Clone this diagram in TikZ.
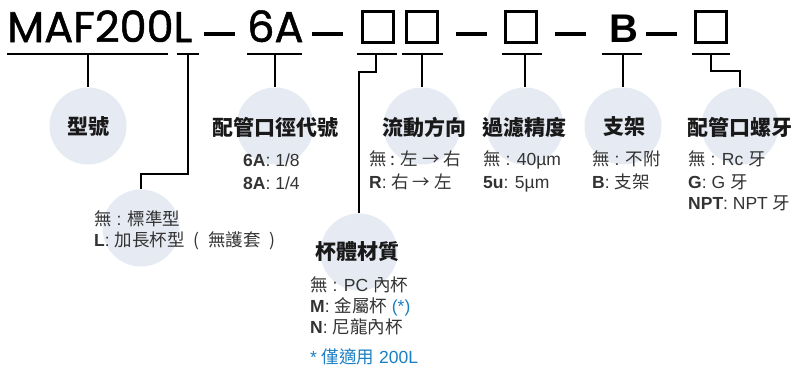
\documentclass[tikz,border=0pt]{standalone}
\usepackage{fontspec}
\setmainfont{Liberation Sans}
\newfontfamily\cjk{Noto Sans CJK TC}
\newfontfamily\titlefont{Poppins}[FakeBold=1.2]
\usetikzlibrary{positioning}

\definecolor{bubblefill}{HTML}{E6EAF2}
\definecolor{desctext}{HTML}{333333}
\definecolor{noteblue}{HTML}{1B7FC4}

\newcommand{\zh}[1]{{\cjk #1}}

\tikzset{
  bubble/.style={circle, fill=bubblefill, minimum size=77pt, inner sep=0pt},
  heading/.style={font=\cjk\bfseries\fontsize{21}{21}\selectfont, text=black!90, inner sep=0pt},
  desc/.style={font=\fontsize{17.5}{17.5}\selectfont, text=desctext, anchor=base west, inner sep=0pt},
  codebox/.style={draw, line width=3pt, minimum width=31pt, minimum height=31pt, inner sep=0pt},
  codetext/.style={font=\titlefont\fontsize{43}{43}\selectfont, anchor=base west, inner sep=0pt},
  sep/.style={line width=4pt},
  tap/.style={line width=1.2pt},
  link/.style={line width=1.2pt},
}

\begin{document}
\begin{tikzpicture}[x=1pt, y=-1pt]
    \useasboundingbox (0,0) rectangle (795,372);

    % 1. Dòng mã sản phẩm
    \node[codetext] (cMAF) at (7,42) {MAF200L};
    \node[codetext] (c6A) at (247,42) {6A};
    \node[codetext, font=\bfseries\fontsize{40}{40}\selectfont] (cB) at (609,42) {B};
    \node[codebox] (bxA) at (377.5,26.5) {};
    \node[codebox] (bxB) at (422,26.5) {};
    \node[codebox] (bxC) at (521,26.5) {};
    \node[codebox] (bxD) at (711,26.5) {};
    \foreach \a/\b in {204/235, 312/343, 456/487, 555/586, 646/677} {
        \draw[sep] (\a,34) -- (\b,34);
    }

    % 2. Vạch gạch dưới và điểm nối
    \foreach \a/\b/\t/\n in {7/168/88/MAF, 177/199/188/L, 247/302/275/6A, 357/397/376/bxA,
                             402/443/422/bxB, 502/542/525/bxC, 602/642/623/B, 692/730/711/bxD} {
        \draw[tap] (\a,54) -- (\b,54);
        \coordinate (u\n) at (\t,54);
    }

    % 3. Các vòng tròn và tiêu đề
    \node[bubble] (bubType) at (88,126) {};
    \node[bubble] (bubPort) at (275,126) {};
    \node[bubble] (bubFlow) at (422,126) {};
    \node[bubble] (bubFilt) at (525,126) {};
    \node[bubble] (bubBrk) at (623,126) {};
    \node[bubble] (bubThr) at (740,126) {};
    \node[bubble] (bubCup) at (141,228) {};
    \node[bubble] (bubMat) at (359,252) {};

    \node[heading] (hType) at (88,127) {型號};
    \node[heading] (hPort) at (275,127) {配管口徑代號};
    \node[heading] (hFlow) at (424,127) {流動方向};
    \node[heading] (hFilt) at (524,127) {過濾精度};
    \node[heading] (hBrk) at (624,127) {支架};
    \node[heading] (hThr) at (740,127) {配管口螺牙};
    \node[heading] (hMat) at (357,252) {杯體材質};

    % 4. Đường nối
    \draw[link] (uMAF) -- (bubType.north);
    \draw[link] (u6A) -- (bubPort.north);
    \draw[link] (ubxB) -- (bubFlow.north);
    \draw[link] (ubxC) -- (bubFilt.north);
    \draw[link] (uB) -- (bubBrk.north);
    \draw[link] (uL) -- ++(0,120) -| (bubCup.north);
    \draw[link] (ubxA) -- ++(0,18) -| (bubMat.north);
    \draw[link] (ubxD) -- ++(0,17) -| (bubThr.north);

    % 5. Mô tả
    \node[desc] (dPortA) at (243,166) {\textbf{6A}: 1/8};
    \node[desc] (dPortB) at (243,189) {\textbf{8A}: 1/4};

    \node[desc] (dFlowA) at (369,165) {\zh{無 : 左 → 右}};
    \node[desc] (dFlowB) at (369,188) {\textbf{R}: \zh{右 → 左}};

    \node[desc] (dFiltA) at (483,165) {\zh{無} : 40µm};
    \node[desc] (dFiltB) at (483,188) {\textbf{5u}: 5µm};

    \node[desc] (dBrkA) at (592,165) {\zh{無} : \zh{不附}};
    \node[desc] (dBrkB) at (592,188) {\textbf{B}: \zh{支架}};

    \node[desc] (dThrA) at (688,165) {\zh{無} : Rc \zh{牙}};
    \node[desc] (dThrB) at (688,188) {\textbf{G}: G \zh{牙}};
    \node[desc] (dThrC) at (688,209) {\textbf{NPT}: NPT \zh{牙}};

    \node[desc] (dCupA) at (94,225) {\zh{無} : \zh{標準型}};
    \node[desc] (dCupB) at (94,246) {\textbf{L}: \zh{加長杯型\enspace{}(\enspace{}無護套\enspace{})}};

    \node[desc] (dMatA) at (310,291) {\zh{無} : PC \zh{內杯}};
    \node[desc] (dMatB) at (310,312) {\textbf{M}: \zh{金屬杯} \textcolor{noteblue}{(*)}};
    \node[desc] (dMatC) at (310,333) {\textbf{N}: \zh{尼龍內杯}};
    \node[desc, text=noteblue] (dNote) at (310,363) {* \zh{僅適用} 200L};

\end{tikzpicture}
\end{document}
